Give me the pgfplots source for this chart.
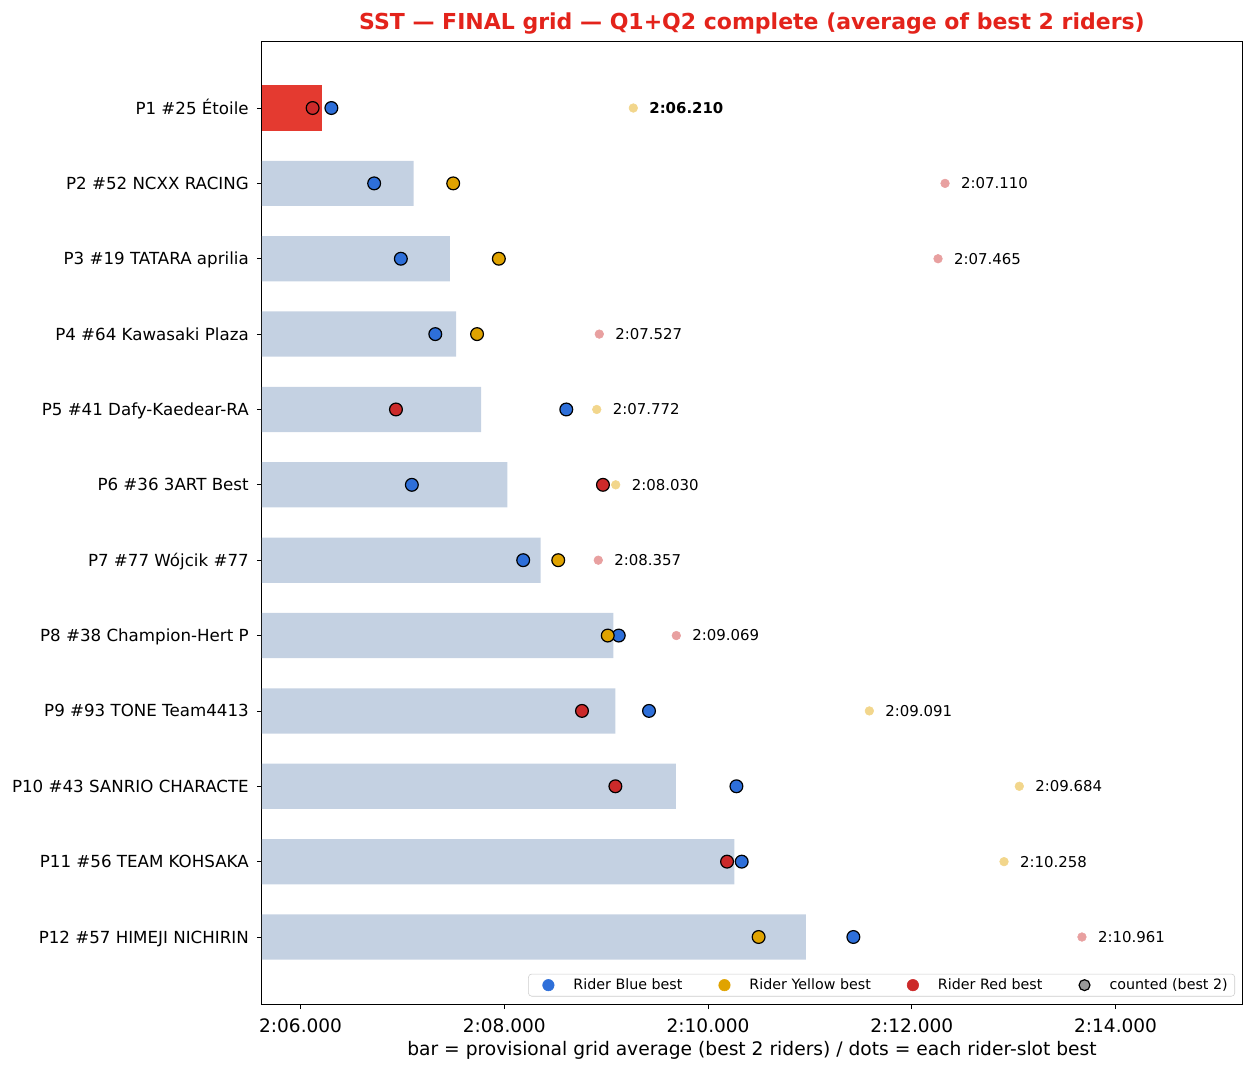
\documentclass[border=0pt]{standalone}
\usepackage{fontspec}
\setmainfont{DejaVu Sans}
\usepackage{pgfplots}
\pgfplotsset{compat=1.18}
\definecolor{barblue}{HTML}{C4D1E2}
\definecolor{barred}{HTML}{E43A30}
\definecolor{cblue}{HTML}{2E6FD9}
\definecolor{cyellow}{HTML}{E0A300}
\definecolor{cred}{HTML}{CC2A2A}
\definecolor{fyellow}{HTML}{F2D68C}
\definecolor{fred}{HTML}{E8A0A0}
\definecolor{ctitle}{HTML}{E3231B}
\definecolor{cgray}{HTML}{999999}
\begin{document}
\begin{tikzpicture}
\path[use as bounding box] (-196.5pt,-51.75pt) rectangle (743.25pt,753pt);
\begin{axis}[
  at={(0pt,0pt)}, anchor=south west,
  width=735pt, height=721.5pt, scale only axis,
  xmin=125.621, xmax=135.241,
  ymin=-0.876, ymax=11.889, y dir=reverse,
  xtick={126,128,130,132,134},
  xticklabels={2:06.000,2:08.000,2:10.000,2:12.000,2:14.000},
  ytick={0,1,2,3,4,5,6,7,8,9,10,11},
  yticklabels={P1 \#25 Étoile,P2 \#52 NCXX RACING,P3 \#19 TATARA aprilia,P4 \#64 Kawasaki Plaza,P5 \#41 Dafy-Kaedear-RA,P6 \#36 3ART Best,P7 \#77 Wójcik \#77,P8 \#38 Champion-Hert P,P9 \#93 TONE Team4413,P10 \#43 SANRIO CHARACTE,P11 \#56 TEAM KOHSAKA,P12 \#57 HIMEJI NICHIRIN},
  tick align=outside, major tick length=3.75pt,
  xtick pos=bottom, ytick pos=left,
  axis line style={line width=0.75pt},
  tick style={line width=0.6pt, black},
  xticklabel style={font=\fontsize{13.9}{16}\selectfont, anchor=base, inner sep=0pt, yshift=-17.25pt},
  yticklabel style={font=\fontsize{12.5}{15}\selectfont, anchor=base east, inner sep=0pt, xshift=-6pt, yshift=-4.5pt},
  title={SST — FINAL grid — Q1+Q2 complete (average of best 2 riders)},
  title style={font=\fontsize{16.5}{20}\bfseries\selectfont, text=ctitle, at={(axis description cs:0.5,1)}, anchor=base, inner sep=0pt, yshift=3pt},
  xlabel={bar = provisional grid average (best 2 riders) / dots = each rider-slot best},
  xlabel style={font=\fontsize{14}{16}\selectfont, at={(axis description cs:0.5,0)}, anchor=base, inner sep=0pt, yshift=-38.25pt},
  legend columns=4,
  legend cell align=left,
  legend image code/.code={\path (0pt,0pt) -- (19.5pt,0pt); \path[#1] plot coordinates {(9.75pt,0pt)};},
  legend style={at={(axis description cs:0.99286,0.0078)}, anchor=south east, draw=black!20, rounded corners=2.5pt, fill=white, font=\fontsize{10.7}{12}\selectfont, inner xsep=5.25pt, inner ysep=3.5pt, nodes={inner sep=0pt, anchor=west}, /tikz/every odd column/.append style={column sep=9pt}, /tikz/every even column/.append style={column sep=21.75pt}},
]
% bars = provisional grid average
\addplot[xbar, bar width=0.6, fill=barblue, draw=none, forget plot] coordinates {
(127.110,1) (127.465,2) (127.527,3) (127.772,4) (128.030,5) (128.357,6) (129.069,7) (129.091,8) (129.684,9) (130.258,10) (130.961,11)};
\addplot[xbar, bar width=0.6, fill=barred, draw=none, forget plot] coordinates {(126.210,0)};
% not counted (third rider)
\addplot[only marks, mark=*, mark size=3.25pt, color=fyellow, forget plot] coordinates {
(129.266,0) (128.907,4) (129.093,5) (131.583,8) (133.055,9) (132.905,10)};
\addplot[only marks, mark=*, mark size=3.25pt, color=fred, forget plot] coordinates {
(132.326,1) (132.257,2) (128.932,3) (128.922,6) (129.688,7) (133.670,11)};
% counted (best 2)
\addplot[only marks, mark=*, mark size=4.8pt, mark options={draw=black, line width=0.9pt, fill=cblue}, forget plot] coordinates {
(126.302,0) (126.722,1) (126.984,2) (127.322,3) (128.608,4) (127.092,5) (128.185,6) (129.123,7) (129.420,8) (130.278,9) (130.330,10) (131.426,11)};
\addplot[only marks, mark=*, mark size=4.8pt, mark options={draw=black, line width=0.9pt, fill=cyellow}, forget plot] coordinates {
(127.498,1) (127.946,2) (127.732,3) (128.529,6) (129.015,7) (130.496,11)};
\addplot[only marks, mark=*, mark size=4.8pt, mark options={draw=black, line width=0.9pt, fill=cred}, forget plot] coordinates {
(126.118,0) (126.936,4) (128.968,5) (128.762,8) (129.090,9) (130.186,10)};
% value labels
\addplot[only marks, mark=none, forget plot, nodes near coords, point meta=explicit symbolic,
  nodes near coords style={anchor=west, inner sep=0pt, font=\fontsize{11.2}{13}\bfseries\selectfont, text=black}] table[meta=lab] {
x y lab
129.421 0 2:06.210
};
\addplot[only marks, mark=none, forget plot, nodes near coords, point meta=explicit symbolic,
  nodes near coords style={anchor=west, inner sep=0pt, font=\fontsize{11.2}{13}\selectfont, text=black}] table[meta=lab] {
x y lab
132.481 1 2:07.110
132.412 2 2:07.465
129.087 3 2:07.527
129.062 4 2:07.772
129.248 5 2:08.030
129.077 6 2:08.357
129.843 7 2:09.069
131.738 8 2:09.091
133.210 9 2:09.684
133.060 10 2:10.258
133.825 11 2:10.961
};
% legend
\addlegendimage{mark=*, mark size=4.3pt, draw=none, mark options={draw=cblue, fill=cblue, line width=0.4pt}}
\addlegendentry{Rider Blue best}
\addlegendimage{mark=*, mark size=4.3pt, draw=none, mark options={draw=cyellow, fill=cyellow, line width=0.4pt}}
\addlegendentry{Rider Yellow best}
\addlegendimage{mark=*, mark size=4.3pt, draw=none, mark options={draw=cred, fill=cred, line width=0.4pt}}
\addlegendentry{Rider Red best}
\addlegendimage{mark=*, mark size=4.1pt, draw=none, mark options={draw=black, line width=0.9pt, fill=cgray}}
\addlegendentry{counted (best 2)}
\end{axis}
\end{tikzpicture}
\end{document}
